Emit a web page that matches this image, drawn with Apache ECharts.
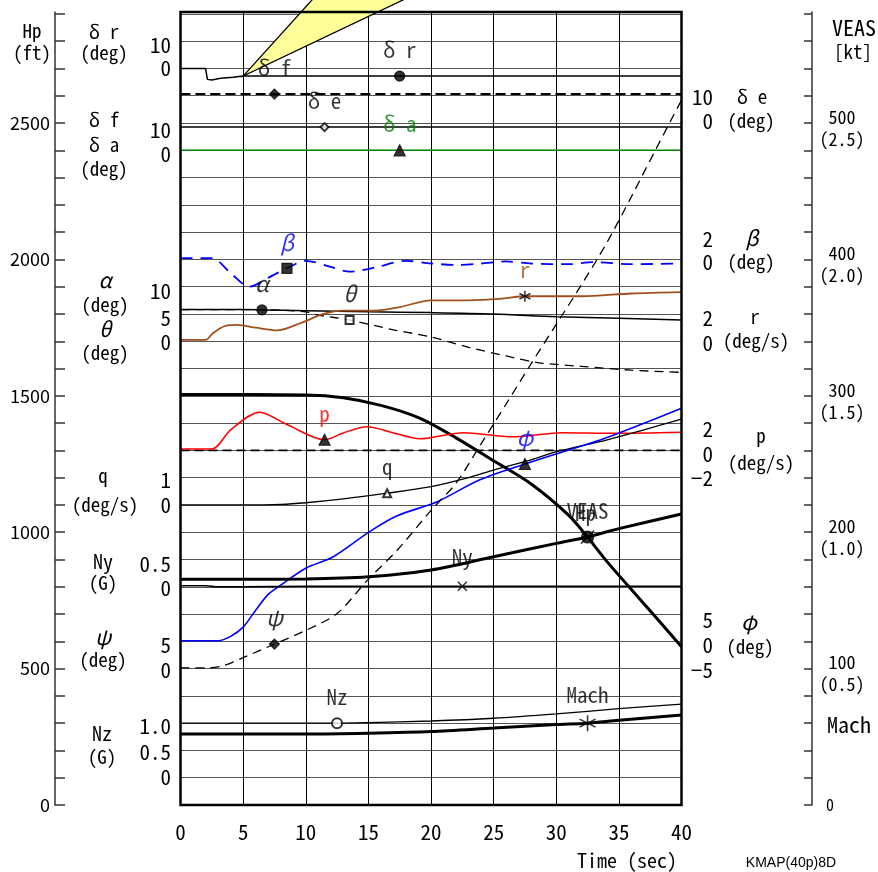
<!DOCTYPE html>
<html>
<head>
<meta charset="utf-8">
<title>KMAP(40p)8D</title>
<script src="https://cdn.jsdelivr.net/npm/echarts@6/dist/echarts.min.js"></script>
<style>
  html, body { margin: 0; padding: 0; background: #fff; }
  #chart { width: 878px; height: 872px; }
</style>
</head>
<body>
<div id="chart"></div>
<script>
// ---- time histories (t in sec, values in their own units) ----
var drT = [0, 2.0, 2.15, 2.5, 3.2, 4.2, 5, 17.5, 40];
var drV = [0, 0, -4.0, -4.2, -3.6, -3.2, -2.8, -2.8, -2.8];          // deg
var dfT = [0, 7.5, 40];
var dfV = [20.6, 20.6, 20.6];                                         // deg
var deT = [0, 11.5, 40];
var deV = [-1.5, -1.5, -1.5];                                         // deg
var daT = [0, 17.5, 40];
var daV = [0, 0, 0];                                                  // deg
var betaT = [0, 2.5, 4, 5.5, 7, 8.5, 10, 12, 13.5, 15.5, 18, 20, 22, 24, 26, 28, 31, 33, 36, 40];
var betaV = [0.1, 0.1, -1.0, -2.0, -1.35, -0.65, -0.1, -0.55, -0.9, -0.6, -0.1, -0.3, -0.4, -0.3, -0.15, -0.3, -0.35, -0.2, -0.35, -0.3];
var alphaT = [0, 5, 6.5, 10, 15, 20, 25, 30, 35, 40];
var alphaV = [5.8, 5.8, 5.75, 5.6, 5.4, 5.25, 5.0, 4.5, 4.2, 3.9];
var thetaT = [0, 5, 8, 10, 11, 13.5, 17, 20, 23, 26, 28.5, 32, 36, 40];
var thetaV = [5.8, 5.8, 5.7, 5.4, 4.8, 3.9, 2.1, 0.8, -1.1, -2.7, -3.9, -4.6, -5.3, -5.7];
var rT = [0, 2.0, 2.6, 3.5, 4.5, 6, 7.7, 9.5, 11.4, 13, 15.5, 17.5, 20, 23, 25.5, 27.5, 32, 36, 40];
var rV = [0.1, 0.1, 0.6, 1.1, 1.2, 1.0, 0.8, 1.3, 2.0, 2.25, 2.25, 2.5, 3.0, 3.0, 3.1, 3.3, 3.3, 3.5, 3.6];   // deg/s
var hpT = [0, 10, 13, 16, 19, 22, 25, 28, 31, 32.5, 34, 37, 40];
var hpV = [1505, 1503, 1493, 1465, 1420, 1346, 1262, 1177, 1062, 982, 895, 738, 580];                    // ft
var pT = [0, 2.5, 4, 6.3, 8.5, 11.5, 13, 14.9, 17, 19.1, 22.6, 26.5, 30.5, 34.5, 40];
var pV = [0.1, 0.1, 1.5, 2.8, 1.9, 0.78, 1.28, 1.73, 1.28, 0.85, 1.3, 1.0, 1.3, 1.25, 1.33];               // deg/s
var qT = [0, 5, 8, 10, 13, 16.5, 20, 23, 25, 28, 30, 34, 37, 40];
var qV = [0, 0, 0.02, 0.08, 0.22, 0.43, 0.67, 1.0, 1.28, 1.65, 1.95, 2.38, 2.75, 3.15];                  // deg/s
var nyT = [0, 2, 3, 5, 10, 15, 22.5, 30, 40];
var nyV = [0.02, 0.02, 0, 0, 0.01, 0.01, 0.01, 0.01, 0.01];                                              // G
var psiT = [0, 2.3, 3.4, 5, 7.5, 10, 12.5, 15, 17.3, 20, 22, 24, 26, 28, 30, 32, 34, 36, 38, 40];
var psiV = [0.15, 0.15, 0.5, 2.0, 4.5, 7.0, 10.1, 16.4, 21.7, 29, 34, 41.2, 48.5, 55.9, 63.1, 70.3, 77.9, 86.5, 95.4, 104.2];
var phiT = [0, 3, 4, 5, 6, 7, 8, 10, 12.2, 15.1, 17.3, 20.5, 23.9, 27.5, 30.6, 33.5, 36.5, 40];
var phiV = [0.1, 0.1, 0.9, 2.6, 5.7, 8.6, 10.3, 13.4, 15.5, 20.1, 23.0, 25.6, 29.6, 32.5, 34.8, 36.9, 39.5, 42.7];
var nzT = [0, 10, 12.5, 15, 20, 25, 30, 35, 40];
var nzV = [1.0, 1.0, 1.0, 1.01, 1.04, 1.09, 1.17, 1.265, 1.35];                                          // G
var veasT = [0, 5, 10, 15, 20, 25, 30, 32.5, 35, 40];
var veasV = [165.5, 165.5, 165.7, 167.3, 172.3, 182, 191.8, 196.5, 202.6, 213.4];                        // kt
var machT = [0, 5, 10, 15, 20, 25, 30, 32.5, 35, 40];
var machV = [0.26, 0.26, 0.26, 0.263, 0.269, 0.282, 0.295, 0.300, 0.311, 0.330];

// yellow callout wedge, in delta-r degrees
var calloutT = [5, 11.46, 20.0];
var calloutDr = [-2.8, 30, 30];

// tick label texts and where they sit on the grid (grid unit = 100 ft)
var leftTickText = ['10', '0', '10', '0', '10', '5', '0', '1', '0', '0.5', '0', '5', '0', '1.0', '0.5', '0'];
var leftTickAt = [27.85, 27, 24.75, 23.87, 18.86, 17.87, 16.98, 11.91, 11, 8.85, 7.94, 5.87, 4.95, 2.91, 1.96, 1.04];
var rightTickText = ['10', '0', '2', '0', '2', '0', '2', '0', '\u22122', '5', '0', '\u22125'];
var rightTickAt = [25.94, 25.08, 20.75, 19.89, 17.87, 16.95, 13.78, 12.87, 12.0, 6.78, 5.87, 4.93];
var veasTicks = [0, 5, 10, 15, 20, 25];   // kt = 20 * unit, Mach = unit / 10

var FONT = "'Noto Sans Mono CJK JP', 'Noto Sans CJK JP', monospace";
var FONT_P = "'Noto Sans CJK JP', sans-serif";
var U_MAX = 29.07;
var asterisk = 'path://M0,-10L0,10M-8.66,-5L8.66,5M-8.66,5L8.66,-5';
var cross = 'path://M-5,-5L5,5M-5,5L5,-5';

// each trace: zero = grid unit of value 0, per = value per grid unit
var tracks = [
  { t: drT, v: drV, zero: 27, per: 10, color: '#000', width: 1.5, smooth: false,
    mark: { t: 17.5, label: 'δ r', symbol: 'circle', size: 10 } },
  { t: dfT, v: dfV, zero: 24, per: 10, color: '#000', width: 2, dash: [10, 5],
    mark: { t: 7.5, label: 'δ f', symbol: 'diamond', size: 10 } },
  { t: deT, v: deV, zero: 25, per: 10, color: '#000', width: 1.5,
    mark: { t: 11.5, label: 'δ e', symbol: 'emptyDiamond', size: 8 } },
  { t: daT, v: daV, zero: 24, per: 10, color: '#008000', width: 1.6,
    mark: { t: 17.5, label: 'δ a', symbol: 'triangle', size: 11, markColor: '#000' } },
  { t: betaT, v: betaV, zero: 20, per: 2, color: '#0000ff', width: 1.8, dash: [12, 8],
    mark: { t: 8.5, label: 'β', symbol: 'rect', size: 10, markColor: '#000', italic: true } },
  { t: alphaT, v: alphaV, zero: 17, per: 5, color: '#000', width: 1.5,
    mark: { t: 6.5, label: 'α', symbol: 'circle', size: 10, italic: true } },
  { t: thetaT, v: thetaV, zero: 17, per: 5, color: '#000', width: 1.3, dash: [9, 6],
    mark: { t: 13.5, label: 'θ', symbol: 'emptyRect', size: 8, italic: true } },
  { t: rT, v: rV, zero: 17, per: 2, color: '#a0501e', width: 1.8,
    mark: { t: 27.5, label: 'r', symbol: asterisk, size: 11, markColor: '#000', stroke: true } },
  { t: hpT, v: hpV, zero: 0, per: 100, color: '#000', width: 3,
    mark: { t: 32.5, label: 'Hp', symbol: cross, size: 13, stroke: true, dy: -24, dx: -2 } },
  { t: pT, v: pV, zero: 13, per: 2, color: '#ff0000', width: 1.5,
    mark: { t: 11.5, label: 'p', symbol: 'triangle', size: 11, markColor: '#000' } },
  { t: qT, v: qV, zero: 11, per: 1, color: '#000', width: 1.3,
    mark: { t: 16.5, label: 'q', symbol: 'emptyTriangle', size: 8 } },
  { t: phiT, v: phiV, zero: 6, per: 5, color: '#0000ff', width: 1.6,
    mark: { t: 27.5, label: 'φ', symbol: 'triangle', size: 11, markColor: '#000', italic: true } },
  { t: nyT, v: nyV, zero: 8, per: 0.5, color: '#000', width: 1.5,
    mark: { t: 22.5, label: 'Ny', symbol: cross, size: 9, stroke: true, dy: -29 } },
  { t: psiT, v: psiV, zero: 5, per: 5, color: '#000', width: 1.3, dash: [9, 6],
    mark: { t: 7.5, label: 'ψ', symbol: 'diamond', size: 10, italic: true } },
  { t: veasT, v: veasV, zero: 0, per: 20, color: '#000', width: 3,
    mark: { t: 32.5, label: 'VEAS', symbol: 'circle', size: 12 } },
  { t: nzT, v: nzV, zero: 1, per: 0.5, color: '#000', width: 1.3,
    mark: { t: 12.5, label: 'Nz', symbol: 'emptyCircle', size: 10 } },
  { t: machT, v: machV, zero: 0, per: 0.1, color: '#000', width: 3,
    mark: { t: 32.5, label: 'Mach', symbol: asterisk, size: 16, stroke: true, dy: -28 } }
];

function interp(ts, vs, t) {
  for (var i = 1; i < ts.length; i++) {
    if (t <= ts[i]) {
      var f = (t - ts[i - 1]) / (ts[i] - ts[i - 1]);
      return vs[i - 1] + f * (vs[i] - vs[i - 1]);
    }
  }
  return vs[vs.length - 1];
}

var series = [];

series.push({
  type: 'custom',
  coordinateSystem: 'cartesian2d',
  data: [[calloutT[0], 27]],
  clip: false,
  silent: true,
  z: 4,
  renderItem: function (params, api) {
    var pts = calloutT.map(function (t, i) { return api.coord([t, 27 + calloutDr[i] / 10]); });
    return { type: 'polygon', shape: { points: pts }, style: { fill: '#ffff99', stroke: '#000', lineWidth: 1.3 } };
  }
});

// p = 0 reference
series.push({
  type: 'line', data: [[0, 13], [40, 13]], showSymbol: false, silent: true, z: 3,
  lineStyle: { color: '#000', width: 1.6, type: [9, 5] }
});

tracks.forEach(function (k) {
  var pts = k.t.map(function (t, i) { return [t, k.zero + k.v[i] / k.per]; });
  series.push({
    type: 'line',
    data: pts,
    showSymbol: false,
    silent: true,
    smooth: k.smooth === false ? false : 0.3,
    z: 5,
    lineStyle: { color: k.color, width: k.width, type: k.dash || 'solid' }
  });
  var m = k.mark;
  var mc = m.markColor || k.color;
  series.push({
    type: 'scatter',
    silent: true,
    z: 6,
    data: [[m.t, k.zero + interp(k.t, k.v, m.t) / k.per]],
    symbol: m.symbol,
    symbolSize: m.size,
    itemStyle: m.stroke
      ? { color: 'transparent', borderColor: mc, borderWidth: 1.5 }
      : { color: mc, borderColor: mc, borderWidth: 1.2 },
    label: {
      show: true,
      formatter: m.label,
      position: 'inside',
      offset: [m.dx || 0, m.dy || -26],
      color: k.color === '#000' ? '#000' : k.color,
      fontFamily: FONT,
      fontSize: m.italic ? 22 : 21,
      fontStyle: m.italic ? 'italic' : 'normal'
    }
  });
});

var chart = echarts.init(document.getElementById('chart'));
chart.setOption({
  animation: false,
  backgroundColor: '#fff',
  grid: { left: 180.5, right: 196.5, top: 12, bottom: 67, show: true, borderColor: '#000', borderWidth: 2.5, backgroundColor: 'transparent', z: 7 },
  xAxis: {
    type: 'value', min: 0, max: 40, interval: 5,
    axisLine: { show: false }, axisTick: { show: false },
    axisLabel: { fontSize: 21, color: '#000', fontFamily: FONT, margin: 17 },
    splitLine: { show: true, lineStyle: { color: '#000', width: 1 } }
  },
  yAxis: [
    {
      type: 'value', min: 0, max: U_MAX, interval: 1,
      axisLine: { show: false }, axisTick: { show: false }, axisLabel: { show: false },
      splitLine: { show: true, lineStyle: { color: '#555', width: 1 } }
    },
    {
      type: 'value', min: 0, max: U_MAX, position: 'left', offset: 125.5,
      axisLine: { show: true, lineStyle: { color: '#333', width: 1.5 } },
      axisTick: { show: true, inside: true, length: 10, lineStyle: { color: '#333', width: 1.5 },
        customValues: [0, 1, 2, 3, 4, 5, 6, 7, 8, 9, 10, 11, 12, 13, 14, 15, 16, 17, 18, 19, 20, 21, 22, 23, 24, 25, 26, 27, 28, 29] },
      axisLabel: { customValues: [0, 5, 10, 15, 20, 25], formatter: function (v) { return String(Math.round(v * 100)); },
        fontSize: 18, color: '#000', fontFamily: FONT_P, margin: 5 },
      splitLine: { show: false }
    },
    {
      type: 'value', min: 0, max: U_MAX, position: 'right', offset: 130.5,
      axisLine: { show: true, lineStyle: { color: '#333', width: 1.5 } },
      axisTick: { show: true, inside: true, length: 8, lineStyle: { color: '#333', width: 1.5 },
        customValues: [0, 1, 2, 3, 4, 5, 6, 7, 8, 9, 10, 11, 12, 13, 14, 15, 16, 17, 18, 19, 20, 21, 22, 23, 24, 25, 26, 27, 28, 29] },
      axisLabel: { show: false },
      splitLine: { show: false }
    }
  ],
  series: series
});

function yAt(u) { return chart.convertToPixel({ xAxisIndex: 0, yAxisIndex: 0 }, [0, u])[1]; }
function txt(s, x, y, size, o) {
  o = o || {};
  return {
    type: 'text', x: x, y: y, silent: true, z: 20,
    style: {
      text: s, fill: o.color || '#000', fontSize: size, fontFamily: o.font || FONT,
      fontStyle: o.italic ? 'italic' : 'normal', align: o.align || 'center', verticalAlign: 'middle'
    }
  };
}

var g = [];
// left names
g.push(txt('Hp', 32, 31, 19), txt('(ft)', 32, 53, 19));
g.push(txt('δ r', 104, 32, 19), txt('(deg)', 104, 53, 19));
g.push(txt('δ f', 104, 120, 19), txt('δ a', 104, 145, 19), txt('(deg)', 104, 169, 19));
g.push(txt('α', 105, 280, 21, { italic: true }), txt('(deg)', 105, 305, 19));
g.push(txt('θ', 105, 329, 21, { italic: true }), txt('(deg)', 105, 353, 19));
g.push(txt('q', 103, 476, 19), txt('(deg/s)', 105, 505, 19));
g.push(txt('Ny', 103, 561, 20), txt('(G)', 103, 583, 19));
g.push(txt('ψ', 103, 637, 21, { italic: true }), txt('(deg)', 103, 660, 19));
g.push(txt('Nz', 102, 733, 20), txt('(G)', 102, 757, 19));
// right names
g.push(txt('δ e', 752, 97, 19), txt('(deg)', 751, 121, 19));
g.push(txt('β', 752, 238, 21, { italic: true }), txt('(deg)', 751, 262, 19));
g.push(txt('r', 755, 317, 19), txt('(deg/s)', 756, 341, 19));
g.push(txt('p', 761, 436, 19), txt('(deg/s)', 761, 463, 19));
g.push(txt('φ', 749, 622, 21, { italic: true }), txt('(deg)', 750, 647, 19));
// tick numbers next to the plot
leftTickText.forEach(function (s, i) { g.push(txt(s, 171, yAt(leftTickAt[i]), 21, { align: 'right' })); });
rightTickText.forEach(function (s, i) { g.push(txt(s, 713, yAt(rightTickAt[i]), 21, { align: 'right' })); });
// VEAS / Mach scale
g.push(txt('VEAS', 854, 28, 22), txt('[kt]', 853, 52, 19), txt('Mach', 849, 725, 22));
veasTicks.forEach(function (u) {
  var y = yAt(u);
  if (u === 0) { g.push(txt('0', 830, y, 16)); return; }
  g.push(txt(String(u * 20), 842, y - 6, 18));
  g.push(txt('(' + (u / 10).toFixed(1) + ')', 842, y + 16, 18));
});
// bottom captions
g.push(txt('Time (sec)', 627, 860, 20));
g.push(txt('KMAP(40p)8D', 791, 863, 14, { font: "'Liberation Sans', Arial, sans-serif" }));

chart.setOption({ graphic: g });
</script>
</body>
</html>
